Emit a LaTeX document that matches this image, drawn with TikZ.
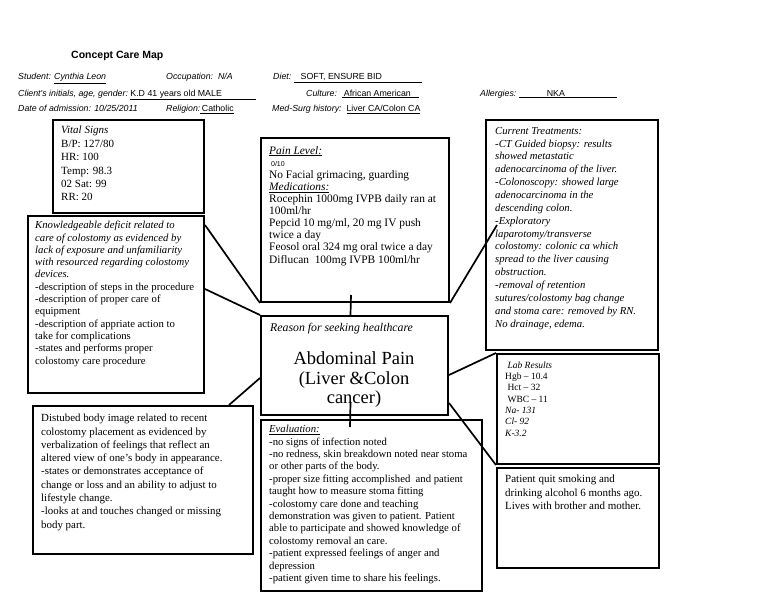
\documentclass[tikz,border=0pt]{standalone}
\usepackage{fontspec}
\setmainfont{Liberation Serif}
\newfontfamily\arialf{Liberation Sans}
\begin{document}
\begin{tikzpicture}[x=1pt,y=-1pt]
\tikzset{
 box/.style={draw, line width=2pt, anchor=north west, inner sep=0pt},
 conn/.style={line width=1.7pt},
 txt/.style={anchor=north west, inner sep=0pt, align=left},
 hdr/.style={anchor=base west, inner sep=0pt, font=\arialf\fontsize{8.8}{10}\selectfont},
}
\useasboundingbox[fill=white] (0,0) rectangle (768,594);

% header
\node[anchor=base west, inner sep=0pt, font=\arialf\bfseries\fontsize{10.5}{12}\selectfont] (title) at (71,58.5) {Concept Care Map};
\node[hdr] (h1) at (18,80) {\itshape Student: \underline{Cynthia Leon}};
\node[hdr] (h2) at (166,80) {\itshape Occupation:\ \ N/A};
\node[hdr] (h3) at (273,80) {\itshape Diet:\ \upshape\underline{\makebox[128pt][l]{\hspace{7pt}SOFT, ENSURE BID}}};
\node[hdr] (h4) at (18,96) {\itshape Client's initials, age, gender:\ \upshape\underline{\makebox[126pt][l]{K.D 41 years old MALE}}};
\node[hdr] (h5) at (306,96) {\itshape Culture:\ \ \upshape\underline{\makebox[77pt][l]{\hspace{2pt}African American}}};
\node[hdr] (h6) at (480,96) {\itshape Allergies:\ \upshape\underline{\makebox[98pt][l]{\hspace{28pt}NKA}}};
\node[hdr] (h7) at (18,111.5) {\itshape Date of admission: 10/25/2011};
\node[hdr] (h8) at (166,111.5) {\itshape Religion:\upshape\underline{\,Catholic}};
\node[hdr] (h9) at (272,111.5) {\itshape Med-Surg history:\ \ \upshape\underline{Liver CA/Colon CA}};

% boxes
\node[box, minimum width=151pt, minimum height=93pt] (vital) at (52,119) {};
\node[box, minimum width=176pt, minimum height=177pt] (know) at (27,215) {};
\node[box, minimum width=188pt, minimum height=164pt] (pain) at (260,137) {};
\node[box, minimum width=172pt, minimum height=230pt] (curr) at (485,119) {};
\node[box, minimum width=187pt, minimum height=99pt] (reason) at (260,315) {};
\node[box, minimum width=162pt, minimum height=110pt] (lab) at (496,353) {};
\node[box, minimum width=162pt, minimum height=100pt] (pat) at (496,467) {};
\node[box, minimum width=220pt, minimum height=148pt] (dist) at (32,405) {};
\node[box, minimum width=221pt, minimum height=171pt] (eval) at (260,419) {};

% texts
\node[txt, font=\fontsize{11}{13.4}\selectfont] (vitalt) at (61,126) {\textit{Vital Signs}\\B/P: 127/80\\HR: 100\\Temp: 98.3\\02 Sat: 99\\RR: 20};

\node[txt, font=\fontsize{10.7}{12.3}\selectfont] (knowt) at (35,221) {\textit{Knowledgeable deficit related to}\\\textit{care of colostomy as evidenced by}\\\textit{lack of exposure and unfamiliarity}\\\textit{with resourced regarding colostomy}\\\textit{devices.}\\-description of steps in the procedure\\-description of proper care of\\equipment\\-description of appriate action to\\take for complications\\-states and performs proper\\colostomy care procedure};

\node[txt, font=\fontsize{11.4}{12.1}\selectfont] (paint) at (269,146) {\textit{\underline{Pain Level:}}\\{\arialf\fontsize{7}{8}\selectfont\ 0/10}\\No Facial grimacing, guarding\\\textit{\underline{Medications:}}\\Rocephin 1000mg IVPB daily ran at\\100ml/hr\\Pepcid 10 mg/ml, 20 mg IV push\\twice a day\\Feosol oral 324 mg oral twice a day\\Diflucan\ \ 100mg IVPB 100ml/hr};

\node[txt, font=\itshape\fontsize{10.7}{12.85}\selectfont] (currt) at (495,127) {Current Treatments:\\-CT Guided biopsy: results\\showed metastatic\\adenocarcinoma of the liver.\\-Colonoscopy: showed large\\adenocarcinoma in the\\descending colon.\\-Exploratory\\laparotomy/transverse\\colostomy: colonic ca which\\spread to the liver causing\\obstruction.\\-removal of retention\\sutures/colostomy bag change\\and stoma care: removed by RN.\\No drainage, edema.};

\node[txt, font=\itshape\fontsize{11.8}{13}\selectfont] (reasont) at (270,322.5) {Reason for seeking healthcare};
\node[anchor=north, inner sep=0pt, align=center, font=\fontsize{18.5}{19.7}\selectfont] (reasonm) at (354,351.5) {Abdominal Pain\\(Liver \&Colon\\cancer)};

\node[txt, font=\fontsize{9.5}{11.3}\selectfont] (labt) at (505,361.5) {\ \textit{Lab Results}\\Hgb -- 10.4\\\ Hct -- 32\\\ WBC -- 11\\\textit{Na- 131}\\\textit{Cl- 92}\\\textit{K-3.2}};

\node[txt, font=\fontsize{11}{13.3}\selectfont] (patt) at (505,475) {Patient quit smoking and\\drinking alcohol 6 months ago.\\Lives with brother and mother.};

\node[txt, font=\fontsize{10.9}{13.3}\selectfont] (distt) at (41,414) {Distubed body image related to recent\\colostomy placement as evidenced by\\verbalization of feelings that reflect an\\altered view of one’s body in appearance.\\-states or demonstrates acceptance of\\change or loss and an ability to adjust to\\lifestyle change.\\-looks at and touches changed or missing\\body part.};

\node[txt, font=\fontsize{10.7}{12.4}\selectfont] (evalt) at (269,425) {\textit{\underline{Evaluation:}}\\-no signs of infection noted\\-no redness, skin breakdown noted near stoma\\or other parts of the body.\\-proper size fitting accomplished\ \ and patient\\taught how to measure stoma fitting\\-colostomy care done and teaching\\demonstration was given to patient. Patient\\able to participate and showed knowledge of\\colostomy removal an care.\\-patient expressed feelings of anger and\\depression\\-patient given time to share his feelings.};

% connectors
\draw[conn] ([xshift=-4pt,yshift=8pt]pain.south) -- ([xshift=-4pt]reason.north);
\draw[conn] ([xshift=-4pt,yshift=14pt]reason.south) -- ([xshift=-21.5pt,yshift=-8pt]eval.north);
\draw[conn] ([yshift=-10pt]know.north east) -- (pain.south west);
\draw[conn] ([yshift=15.5pt]know.east) -- (reason.north west);
\draw[conn] ([xshift=-25pt]dist.north east) -- ([yshift=-12.5pt]reason.west);
\draw[conn] ([yshift=-9.5pt]reason.east) -- (lab.north west);
\draw[conn] ([yshift=-37.5pt]reason.east) -- (lab.south west);
\draw[conn] (pain.south east) -- ([xshift=12pt,yshift=-106pt]curr.north west);
\end{tikzpicture}
\end{document}
